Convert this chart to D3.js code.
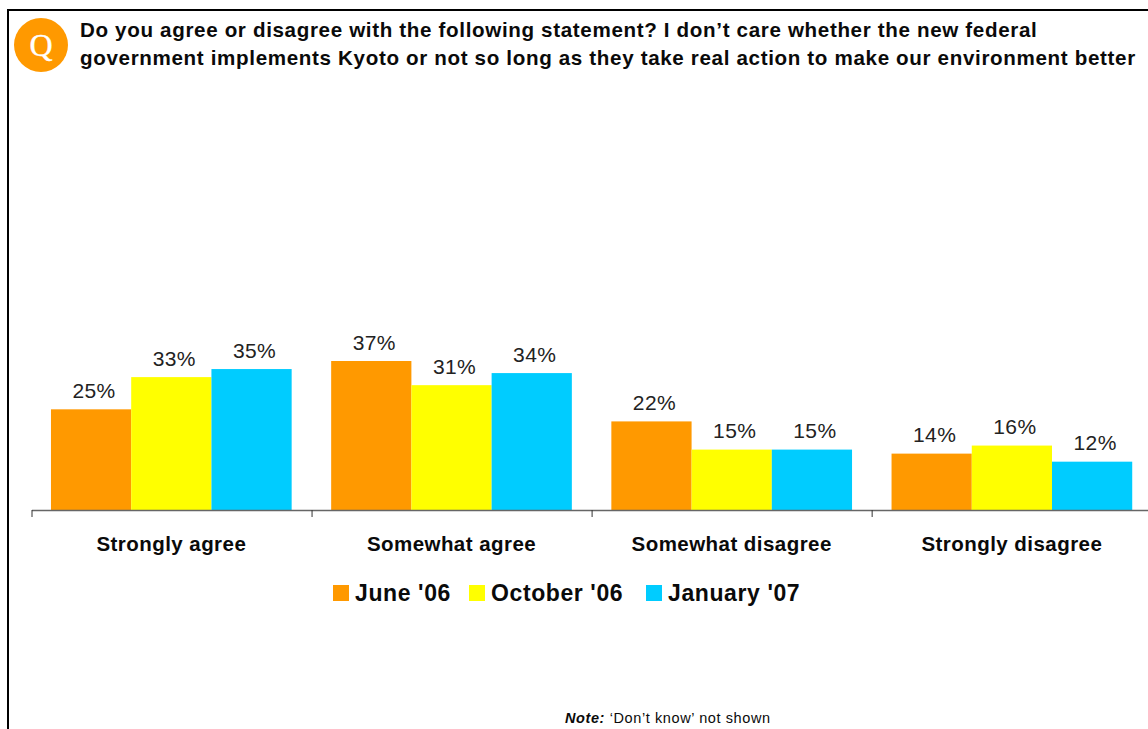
<!DOCTYPE html>
<html><head><meta charset="utf-8">
<script src="https://cdn.jsdelivr.net/npm/d3@7"></script>
<style>
html,body{margin:0;padding:0;background:#fff;overflow:hidden}
svg{display:block}
text{font-family:"Liberation Sans",Arial,sans-serif;fill:#0a0a0a}
</style></head><body>
<svg id="c" width="1148" height="729"></svg>
<script>
const categories = ["Strongly agree","Somewhat agree","Somewhat disagree","Strongly disagree"];
const seriesNames = ["June '06","October '06","January '07"];
const june06 = [25,37,22,14];
const october06 = [33,31,15,16];
const january07 = [35,34,15,12];
const colors = ["#ff9900","#ffff00","#00ccff"];
const titleLines = ["Do you agree or disagree with the following statement? I don\u2019t care whether the new federal",
  "government implements Kyoto or not so long as they take real action to make our environment better"];

const seriesValues = [june06, october06, january07];
const svg = d3.select("#c");

// frame
svg.append("path").attr("d","M8,729V10H1148").attr("fill","none").attr("stroke","#000").attr("stroke-width",2);

// header
svg.append("circle").attr("cx",41).attr("cy",45).attr("r",27).attr("fill","#ff9900");
svg.append("text").attr("x",41).attr("y",56).attr("text-anchor","middle")
  .style("font-family","'Liberation Serif',serif").style("font-size","32px").style("stroke","#fff").style("stroke-width","0.4px").style("fill","#fff").text("Q");
svg.selectAll("text.title").data(titleLines).join("text").attr("class","title")
  .attr("x",80).attr("y",(d,i)=>37+i*28)
  .attr("font-size",20.6).attr("font-weight","bold").style("letter-spacing","0.65px").text(d=>d);

// scales
const left=31.5, step=280.05, base=510;
const x0=d3.scaleBand().domain(categories).range([left,left+step*4]).paddingInner(0.141).paddingOuter(0.0695);
const x1=d3.scaleBand().domain(d3.range(3)).range([0,x0.bandwidth()]);
const y=d3.scaleLinear().domain([0,37]).range([base,361]);
const edges=d3.scaleLinear().domain([0,4]).range([left,left+step*4]);

// bars
const groups=svg.selectAll("g.cat").data(categories).join("g").attr("class","cat")
  .attr("transform",d=>`translate(${x0(d)},0)`);
groups.each(function(c,ci){
  const g=d3.select(this);
  const rows=seriesValues.map((vals,si)=>({si,v:vals[ci]}));
  g.selectAll("rect").data(rows).join("rect")
    .attr("x",d=>x1(d.si)).attr("width",x1.bandwidth())
    .attr("y",d=>y(d.v)).attr("height",d=>base-y(d.v)).attr("fill",d=>colors[d.si]);
  g.selectAll("text").data(rows).join("text")
    .attr("x",d=>x1(d.si)+x1.bandwidth()/2+3).attr("y",d=>y(d.v)-11.5)
    .attr("text-anchor","middle").attr("font-size",21).style("letter-spacing","0.4px").style("fill","#222").text(d=>d.v+"%");
});

// axis
const axis=d3.axisBottom(edges).tickValues([0,1,2,3]).tickFormat("").tickSize(7).tickSizeOuter(0);
const ax=svg.append("g").attr("transform",`translate(0,${base})`).call(axis);
ax.select(".domain").attr("stroke","#666").attr("stroke-width",1.5);
ax.selectAll(".tick line").attr("stroke","#333");

// category labels
svg.selectAll("text.cat").data(categories).join("text").attr("class","cat")
  .attr("x",d=>x0(d)+x0.bandwidth()/2).attr("y",551).attr("text-anchor","middle")
  .attr("font-size",20.5).attr("font-weight","bold").style("letter-spacing","0.45px").text(d=>d);

// legend
const legendX=[333,469,646];
const leg=svg.selectAll("g.leg").data(seriesNames).join("g").attr("class","leg")
  .attr("transform",(d,i)=>`translate(${legendX[i]},585)`);
leg.append("rect").attr("width",16).attr("height",16).attr("fill",(d,i)=>colors[i]);
leg.append("text").attr("x",22).attr("y",16).attr("font-size",23).attr("font-weight","bold").style("letter-spacing","0.6px").text(d=>d);

// note
const note=svg.append("text").attr("x",565).attr("y",723).attr("font-size",14.5).style("letter-spacing","0.6px");
note.append("tspan").attr("font-weight","bold").attr("font-style","italic").text("Note:");
note.append("tspan").text(" \u2018Don\u2019t know\u2019 not shown");
</script>
</body></html>
